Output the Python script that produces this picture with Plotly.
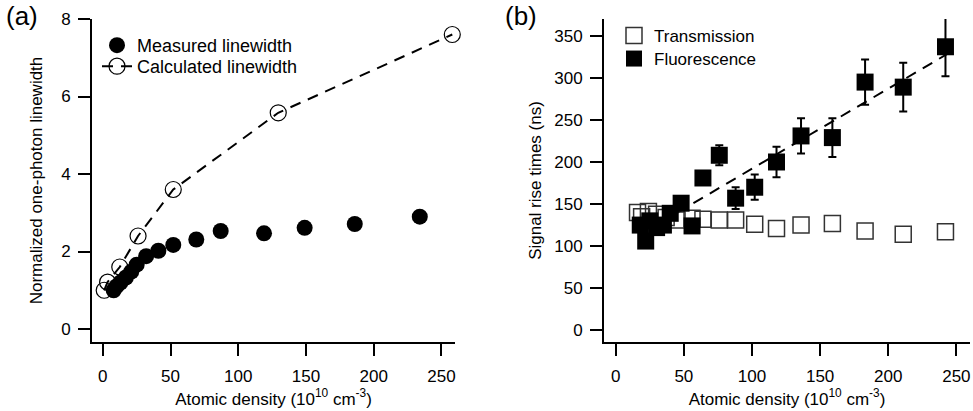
import plotly.graph_objects as go
from plotly.subplots import make_subplots

# ---- Panel (a) data ----
meas_x = [8, 10, 13, 17, 21, 25, 32, 41, 52, 69, 87, 119, 149, 186, 234]
meas_y = [1.0, 1.1, 1.2, 1.33, 1.48, 1.66, 1.88, 2.02, 2.17, 2.31, 2.53, 2.47, 2.61, 2.71, 2.90]
calc_x = [1, 3.5, 12.5, 26, 52, 129.5, 258]
calc_y = [1.0, 1.21, 1.6, 2.4, 3.6, 5.58, 7.6]

# ---- Panel (b) data ----
trans_x = [16, 19, 24, 30, 37, 45, 56, 64, 76, 88, 102, 118, 136, 159, 183, 211, 242]
trans_y = [140, 135, 141, 138, 134, 131, 133, 132, 131, 131, 126, 121, 125, 127, 118, 114, 117]
fluo_x = [18, 22, 25, 30, 35, 40, 48, 56, 64, 76, 88, 102, 118, 136, 159, 183, 211, 242]
fluo_y = [125, 106, 130, 122, 125, 139, 151, 124, 181, 208, 157, 170, 200, 231, 229, 295, 289, 337]
fluo_err = [3, 3, 3, 3, 4, 4, 5, 5, 6, 12, 13, 15, 18, 21, 23, 27, 29, 35]
fit_slope = 0.952
fit_intercept = 96.8
fit_x = [45, 246]
fit_y = [fit_slope * v + fit_intercept for v in fit_x]

FONT = "Liberation Sans, Arial, sans-serif"
W, H = 973, 411

fig = make_subplots(rows=1, cols=2)

fig.add_trace(go.Scatter(
    x=calc_x, y=calc_y, mode="lines+markers", name="Calculated linewidth",
    line=dict(color="black", width=2, dash="11px,8px"),
    marker=dict(symbol="circle-open", size=16, color="black", line=dict(width=1.2)),
    legend="legend3", cliponaxis=False), row=1, col=1)
fig.add_trace(go.Scatter(
    x=meas_x, y=meas_y, mode="markers", name="Measured linewidth",
    marker=dict(symbol="circle", size=16, color="black"),
    legend="legend", cliponaxis=False), row=1, col=1)

fig.add_trace(go.Scatter(
    x=fit_x, y=fit_y, mode="lines", showlegend=False,
    line=dict(color="black", width=2, dash="11px,8px")), row=1, col=2)
fig.add_trace(go.Scatter(
    x=trans_x, y=trans_y, mode="markers", name="Transmission",
    marker=dict(symbol="square-open", size=16, color="#333", line=dict(width=1.5)),
    legend="legend2", cliponaxis=False), row=1, col=2)
fig.add_trace(go.Scatter(
    x=fluo_x, y=fluo_y, mode="markers", name="Fluorescence",
    marker=dict(symbol="square", size=17, color="black"),
    error_y=dict(type="data", array=fluo_err, color="black", thickness=2, width=4),
    legend="legend4", cliponaxis=False), row=1, col=2)

axis_common = dict(showline=True, linewidth=2, linecolor="black", ticks="outside",
                   ticklen=12, tickwidth=2, tickcolor="black", showgrid=False,
                   zeroline=False, automargin=False,
                   tickfont=dict(size=17, family=FONT, color="black"))


def leg(xpx, ypx, size):
    return dict(x=xpx / W, y=1 - ypx / H, xanchor="left", yanchor="top",
                font=dict(size=size, family=FONT, color="black"),
                bgcolor="rgba(0,0,0,0)", itemwidth=30)


ydom = [(H - 342) / H, (H - 19) / H]
fig.update_xaxes(**axis_common)
fig.update_yaxes(**axis_common)
fig.update_layout(
    xaxis=dict(domain=[92 / W, 455 / W], range=[-8, 260], tickvals=[0, 50, 100, 150, 200, 250],
               title=dict(text="Atomic density (10<sup>10</sup> cm<sup>-3</sup>)", standoff=4,
                          font=dict(size=17, family=FONT, color="black")),
               ticklabelstandoff=6),
    yaxis=dict(domain=ydom, range=[-0.335, 8], tickvals=[0, 2, 4, 6, 8],
               title=dict(text="Normalized one-photon linewidth", standoff=14,
                          font=dict(size=17, family=FONT, color="black")),
               ticklabelstandoff=4),
    xaxis2=dict(domain=[604 / W, 970 / W], range=[-8.6, 260], tickvals=[0, 50, 100, 150, 200, 250],
                title=dict(text="Atomic density (10<sup>10</sup> cm<sup>-3</sup>)", standoff=4,
                           font=dict(size=17, family=FONT, color="black")),
                ticklabelstandoff=6),
    yaxis2=dict(domain=ydom, range=[-14, 370], tickvals=[0, 50, 100, 150, 200, 250, 300, 350],
                title=dict(text="Signal rise times (ns)", standoff=8,
                           font=dict(size=17, family=FONT, color="black")),
                ticklabelstandoff=4),
    legend=leg(97, 27, 18),
    legend3=leg(97, 48, 18),
    legend2=leg(614, 18, 17),
    legend4=leg(614, 41, 17),
    width=W, height=H,
    margin=dict(l=0, r=0, t=0, b=0, autoexpand=False),
    paper_bgcolor="white", plot_bgcolor="white",
    font=dict(family=FONT, color="black"),
    annotations=[
        dict(text="(a)", x=4 / W, y=1 - 16 / H, xref="paper", yref="paper",
             xanchor="left", yanchor="middle", showarrow=False,
             font=dict(size=26, family=FONT, color="black")),
        dict(text="(b)", x=503 / W, y=1 - 16 / H, xref="paper", yref="paper",
             xanchor="left", yanchor="middle", showarrow=False,
             font=dict(size=26, family=FONT, color="black")),
    ],
)

fig.write_html("out.html", config={"displayModeBar": False},
               post_script="document.body.style.margin='0';document.body.style.overflow='hidden';")
